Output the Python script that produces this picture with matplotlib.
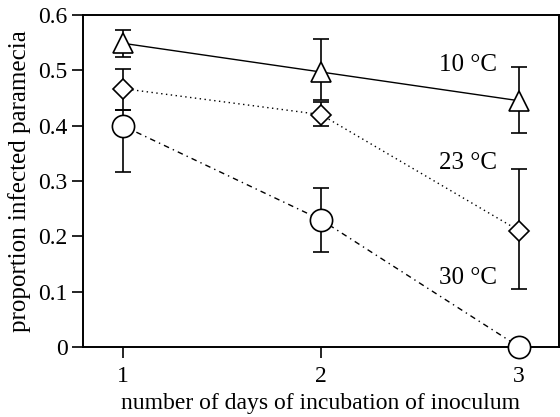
import matplotlib.pyplot as plt

plt.rcParams['font.family'] = ['Liberation Serif', 'DejaVu Serif']

days = [1, 2, 3]

# proportion infected, with lower / upper error bar ends
p10 = [0.549, 0.497, 0.445]
lo10 = [0.524, 0.446, 0.387]
hi10 = [0.573, 0.557, 0.506]

p23 = [0.467, 0.420, 0.210]
lo23 = [0.429, 0.400, 0.104]
hi23 = [0.502, 0.443, 0.322]

p30 = [0.400, 0.230, 0.0]
lo30 = [0.317, 0.172, 0.0]
hi30 = [0.428, 0.287, 0.0]

labels = ['10 °C', '23 °C', '30 °C']
label_y = [0.51, 0.333, 0.125]

fig = plt.figure(figsize=(5.6, 4.17), dpi=100)
ax = fig.add_axes([0.148, 0.168, 0.85, 0.796])

series = [
    (p10, lo10, hi10, '^', 14, '-'),
    (p23, lo23, hi23, 'D', 10, (0, (1, 2.5))),
    (p30, lo30, hi30, 'o', 16, (0, (4, 3, 1, 3))),
]

for p, lo, hi, mk, ms, ls in series:
    err = [[v - l for v, l in zip(p, lo)], [h - v for v, h in zip(p, hi)]]
    ax.errorbar(days, p, yerr=err, fmt='none', ecolor='black', elinewidth=1.2,
                capsize=6, capthick=1.2, zorder=2)
    ax.plot(days, p, color='black', lw=1.0, ls=ls, marker=mk, ms=ms,
            mfc='white', mec='black', mew=1.2, zorder=3, clip_on=False)

for lab, y in zip(labels, label_y):
    ax.text(2.89, y, lab, ha='right', va='center', fontsize=18)

ax.set_xlim(0.8, 3.2)
ax.set_ylim(0, 0.6)
ax.set_xticks(days)
ax.set_yticks([0, 0.1, 0.2, 0.3, 0.4, 0.5, 0.6])
ax.set_yticklabels(['0', '0.1', '0.2', '0.3', '0.4', '0.5', '0.6'])
ax.tick_params(direction='out', length=8, width=1.2, labelsize=17, pad=3)
ax.tick_params(axis='x', pad=6)
for s in ax.spines.values():
    s.set_linewidth(1.4)

ax.set_xlabel('number of days of incubation of inoculum', fontsize=17, labelpad=4)
ax.set_ylabel('proportion infected paramecia', fontsize=18, labelpad=5)

fig.savefig('out.png', dpi=100)
